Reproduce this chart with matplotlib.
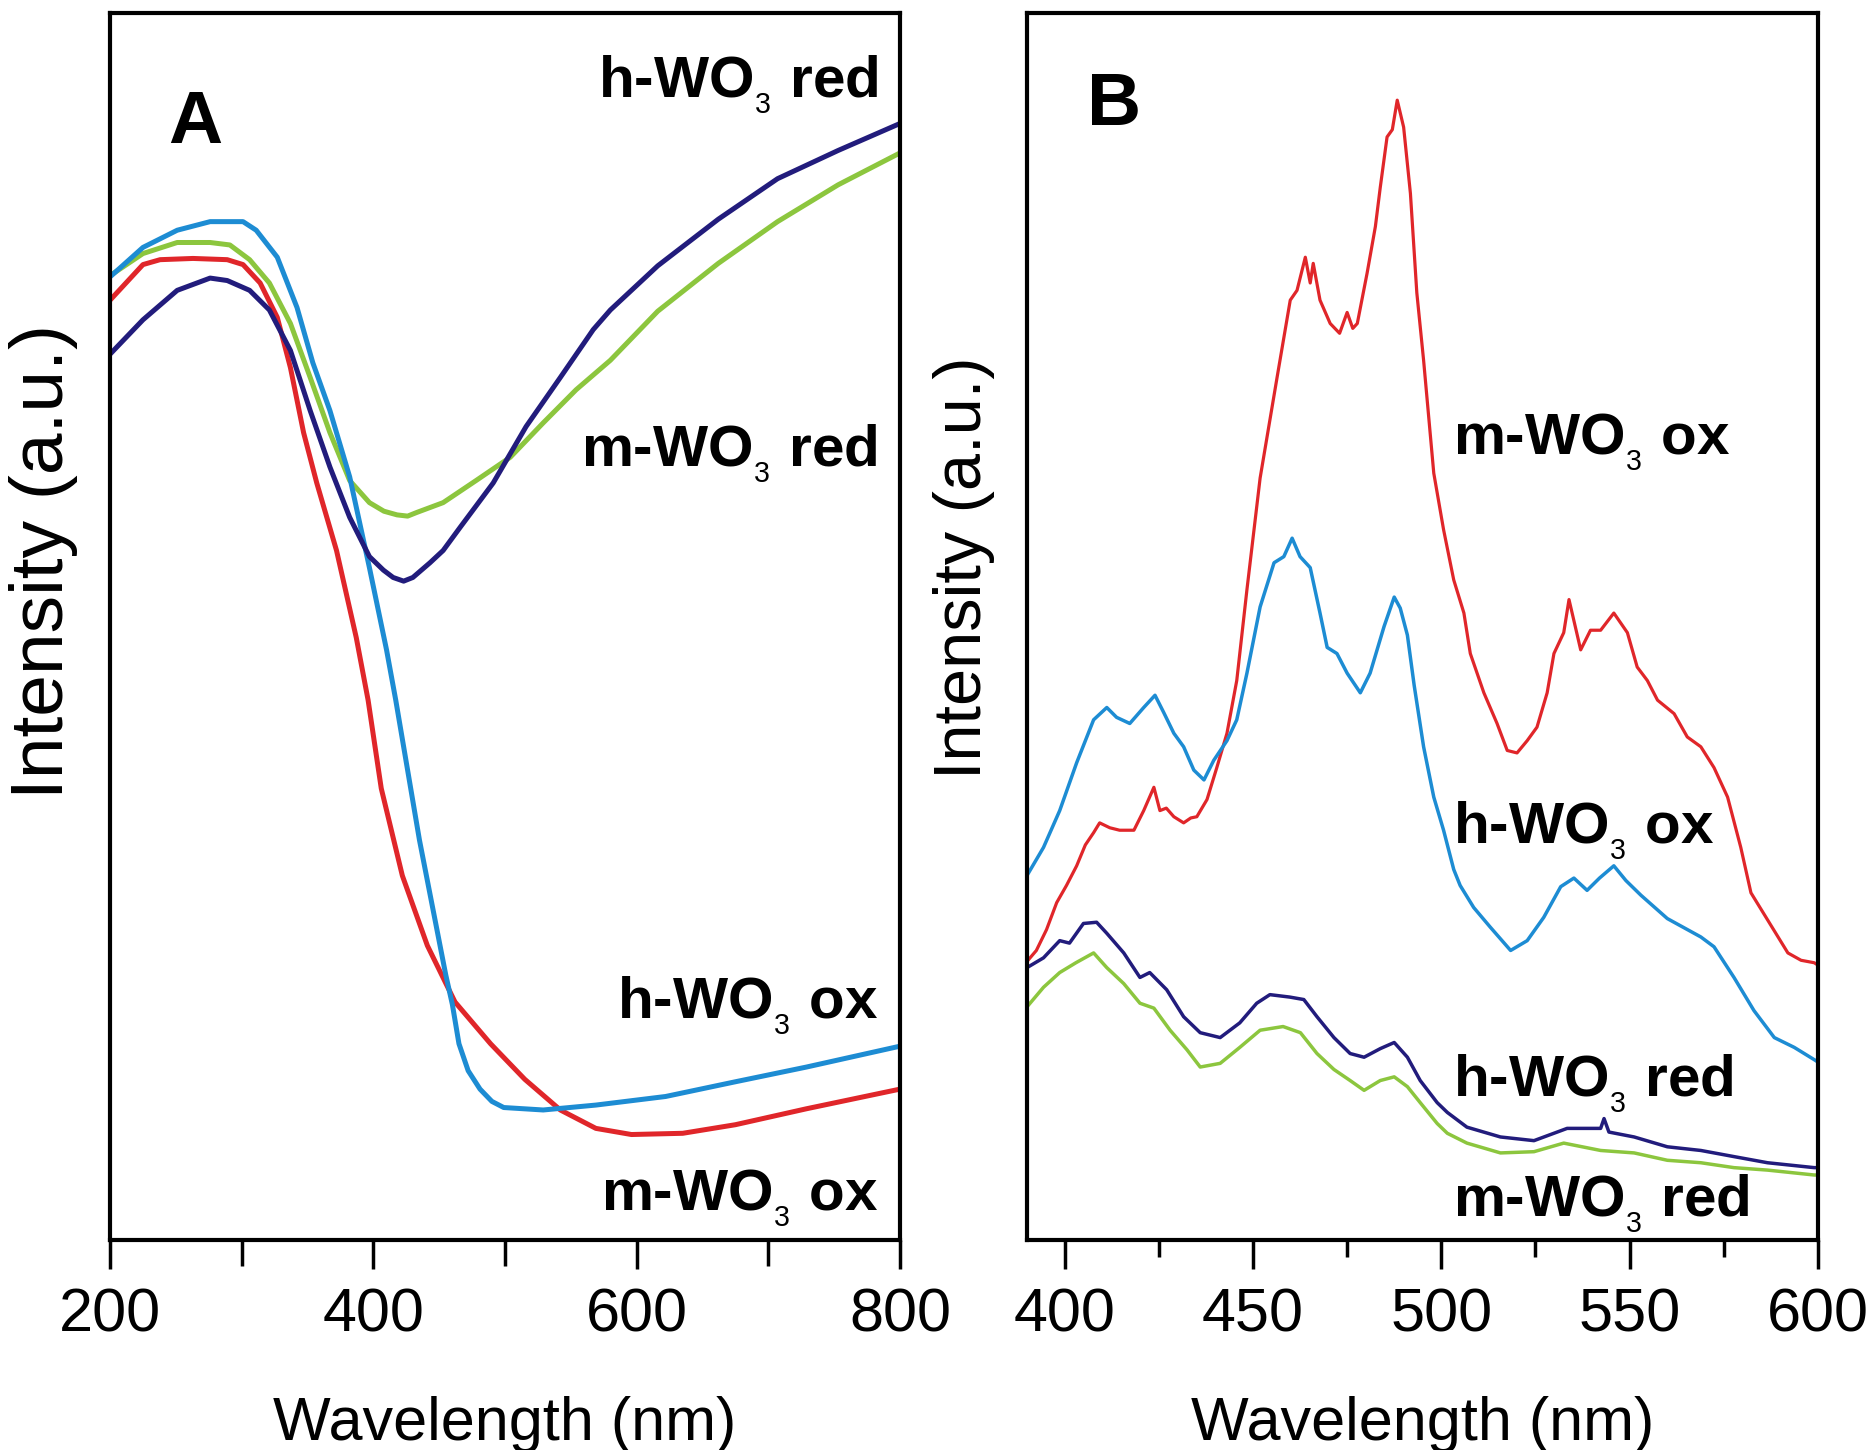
import matplotlib
matplotlib.use("Agg")
import matplotlib.pyplot as plt
from matplotlib.ticker import MultipleLocator

plt.rcParams["font.family"] = ["Liberation Sans", "DejaVu Sans"]
plt.rcParams["mathtext.fontset"] = "custom"
plt.rcParams["mathtext.rm"] = "Liberation Sans"
plt.rcParams["mathtext.bf"] = "Liberation Sans:bold"

RED = "#e0262a"
BLUE = "#1d8cd3"
NAVY = "#221c7c"
GREEN = "#8cc63e"

# ---- panel A: absorption (wavelength in nm, intensity in a.u.) ----
a_h_red_x = [200, 225, 251, 276, 289, 306, 321, 337, 352, 367, 382, 397, 407.6,
             415, 423, 430, 443, 453, 466, 491, 516, 542, 567, 580, 616, 662,
             707, 753, 800]
a_h_red_y = [72.2, 75.0, 77.4, 78.4, 78.2, 77.4, 75.8, 72.5, 67.6, 63.0, 58.9,
             55.7, 54.6, 54.0, 53.7, 54.0, 55.2, 56.2, 58.1, 61.7, 66.3, 70.3,
             74.2, 75.8, 79.4, 83.2, 86.5, 88.8, 91.0]

a_m_red_x = [200, 225, 251, 276, 291, 306, 321, 337, 352, 367, 382, 397, 408,
             418, 426, 433, 443, 453, 478, 504, 529, 554, 580, 616, 662, 707,
             753, 800]
a_m_red_y = [78.6, 80.4, 81.3, 81.3, 81.1, 79.9, 78.0, 74.7, 70.3, 65.8, 61.9,
             60.1, 59.4, 59.1, 59.0, 59.3, 59.7, 60.1, 61.9, 63.8, 66.6, 69.3,
             71.7, 75.7, 79.6, 83.0, 86.0, 88.6]

a_h_ox_x = [200, 225, 251, 276, 301, 311, 327, 342, 354, 367, 382, 397, 410,
            417, 435, 455, 460, 465, 472, 481, 490, 499, 529, 569, 622, 675,
            729, 800]
a_h_ox_y = [78.5, 80.9, 82.3, 83.0, 83.0, 82.3, 80.1, 76.0, 71.5, 67.6, 62.2,
            54.8, 48.1, 44.0, 32.6, 21.6, 19.2, 16.0, 13.8, 12.3, 11.3, 10.8,
            10.6, 11.0, 11.7, 12.9, 14.1, 15.8]

a_m_ox_x = [200, 225, 238, 263, 289, 301, 314, 327, 337, 347, 357, 372, 387,
            396, 406, 422, 441, 462, 489, 515, 542, 569, 596, 635, 675, 729, 800]
a_m_ox_y = [76.6, 79.5, 79.9, 80.0, 79.9, 79.5, 78.0, 75.2, 71.1, 65.8, 61.7,
            56.2, 49.1, 44.0, 36.8, 29.7, 24.0, 19.4, 16.0, 13.1, 10.6, 9.1,
            8.6, 8.7, 9.4, 10.7, 12.3]

# ---- panel B: emission ----
b_m_ox_x = [390, 392.5, 395.2, 397.9, 400.5, 403.2, 405.5, 407.7, 409.3, 412,
            414.6, 418.4, 421, 423.7, 425.3, 427, 429, 431.6, 433.5, 435.1,
            437.8, 440.4, 443.1, 445.7, 448.4, 451.9, 456.4, 459.9, 461.7,
            463.9, 465.2, 466, 467.8, 470.5, 473, 475, 476.5, 477.7, 480.3,
            482.5, 483.8, 485.6, 487, 488.3, 490, 491.8, 493.5, 495.3, 498,
            500.6, 503.3, 506, 507.7, 511.3, 514.8, 517.5, 520.1, 522.8, 525.4,
            528.1, 529.9, 532.5, 533.9, 537, 539.6, 542.3, 545.8, 549.4, 552,
            554.7, 557.4, 561.8, 565.3, 568.9, 572.4, 576, 579.5, 582.2, 586.6,
            592, 595.5, 599, 600]
b_m_ox_y = [22.7, 23.6, 25.3, 27.5, 28.9, 30.5, 32.2, 33.2, 34.0, 33.6, 33.4,
            33.4, 35.0, 36.9, 35.0, 35.2, 34.5, 34.0, 34.4, 34.5, 35.9, 38.5,
            41.3, 45.6, 53.0, 62.1, 70.3, 76.6, 77.4, 80.1, 78.0, 79.6, 76.6,
            74.7, 73.9, 75.6, 74.3, 74.7, 78.8, 82.6, 85.8, 89.9, 90.5, 92.9,
            90.7, 85.3, 77.2, 71.7, 62.5, 57.9, 53.8, 51.1, 47.8, 44.6, 42.1,
            39.9, 39.7, 40.7, 41.8, 44.6, 47.8, 49.5, 52.2, 48.1, 49.7, 49.7,
            51.1, 49.5, 46.7, 45.6, 44.0, 42.9, 41.0, 40.2, 38.5, 36.1, 32.0,
            28.3, 26.1, 23.4, 22.8, 22.6, 22.4]

b_h_ox_x = [390, 394.4, 398.7, 403.2, 407.7, 411.2, 413.8, 417.3, 421, 424,
            426.3, 429, 431.6, 434.3, 437, 439.6, 443.1, 445.7, 448.4, 451.9,
            455.6, 458.2, 460.4, 462.5, 465.2, 467.8, 469.7, 472.3, 475, 478.5,
            481.1, 484.8, 487.5, 489.1, 491, 492.8, 495.3, 498, 500.6, 503.3,
            505, 508.6, 513, 518.4, 522.8, 527.2, 531.7, 535.2, 538.7, 542,
            545.8, 549, 553, 560, 568.9, 572.4, 577.7, 583, 588.4, 593.7, 599,
            600]
b_h_ox_y = [29.7, 32.0, 35.0, 38.9, 42.4, 43.4, 42.6, 42.1, 43.4, 44.4, 43.0,
            41.3, 40.2, 38.3, 37.5, 39.1, 40.7, 42.4, 46.2, 51.6, 55.2, 55.7,
            57.2, 55.7, 54.8, 51.1, 48.3, 47.8, 46.2, 44.6, 46.2, 50.0, 52.4,
            51.5, 49.3, 45.2, 40.2, 36.1, 33.4, 30.2, 28.9, 27.1, 25.5, 23.6,
            24.4, 26.3, 28.8, 29.5, 28.5, 29.5, 30.5, 29.3, 28.1, 26.2, 24.7,
            23.9, 21.4, 18.7, 16.5, 15.7, 14.7, 14.5]

b_h_red_x = [390, 394.4, 398.7, 401.3, 405, 408.5, 411.2, 415.7, 420, 422.6,
             427.1, 431.6, 436, 441.3, 446.5, 451, 454.5, 459.8, 463.5, 467,
             471.5, 475.8, 479.5, 483.8, 487.5, 491, 494.4, 498.9, 501.6,
             506.8, 515.7, 524.6, 533.4, 542.3, 543.2, 544.5, 551.2, 560,
             568.9, 577.7, 586.6, 599, 600]
b_h_red_y = [22.2, 23.0, 24.4, 24.2, 25.8, 25.9, 25.0, 23.4, 21.4, 21.8, 20.4,
             18.2, 16.9, 16.5, 17.7, 19.3, 20.0, 19.8, 19.6, 18.2, 16.5, 15.2,
             14.9, 15.6, 16.1, 14.9, 13.0, 11.2, 10.4, 9.2, 8.4, 8.1, 9.1, 9.1,
             9.9, 8.8, 8.4, 7.6, 7.3, 6.8, 6.3, 5.9, 5.9]

b_m_red_x = [390, 394.4, 398.7, 403, 407.7, 411.2, 415.7, 420, 423.7, 428,
             432.5, 436, 441.3, 446.5, 451.9, 458, 462.6, 467, 471.5, 475.8,
             479.5, 483.8, 487.5, 491, 494.4, 498.9, 501.6, 506.8, 515.7,
             524.6, 532.5, 542.3, 551.2, 560, 568.9, 577.7, 586.6, 599, 600]
b_m_red_y = [19.0, 20.6, 21.8, 22.6, 23.4, 22.2, 20.9, 19.3, 18.9, 17.1, 15.5,
             14.1, 14.4, 15.7, 17.1, 17.4, 16.9, 15.2, 13.9, 13.0, 12.2, 13.0,
             13.3, 12.5, 11.2, 9.5, 8.7, 7.9, 7.1, 7.2, 7.9, 7.3, 7.1, 6.5, 6.3,
             5.9, 5.7, 5.3, 5.3]


def style_axis(ax, major, minor, minor_len, ylabel_size, ylabel_y):
    for side in ["left", "right", "top", "bottom"]:
        ax.spines[side].set_linewidth(3)
    ax.set_yticks([])
    ax.xaxis.set_major_locator(MultipleLocator(major))
    ax.xaxis.set_minor_locator(MultipleLocator(minor))
    ax.tick_params(axis="x", which="major", direction="out", length=21,
                   width=2.5, labelsize=44, pad=13)
    ax.tick_params(axis="x", which="minor", direction="out", length=minor_len,
                   width=2.5)
    ax.set_ylim(0, 100)
    ax.set_xlabel("Wavelength (nm)", fontsize=44, labelpad=37)
    ax.set_ylabel("Intensity (a.u.)", fontsize=ylabel_size)
    ax.yaxis.set_label_coords(-0.04, ylabel_y)


fig = plt.figure(figsize=(18.75, 14.5), dpi=100)
ax1 = fig.add_axes([0.0587, 0.1448, 0.4213, 0.8462])
ax2 = fig.add_axes([0.5477, 0.1448, 0.4219, 0.8462])

# panel A
ax1.plot(a_m_red_x, a_m_red_y, color=GREEN, lw=3.6, solid_joinstyle="round")
ax1.plot(a_m_ox_x, a_m_ox_y, color=RED, lw=3.6, solid_joinstyle="round")
ax1.plot(a_h_ox_x, a_h_ox_y, color=BLUE, lw=3.6, solid_joinstyle="round")
ax1.plot(a_h_red_x, a_h_red_y, color=NAVY, lw=3.6, solid_joinstyle="round")
ax1.set_xlim(200, 800)
style_axis(ax1, 200, 100, 19, 54, 0.553)

lbl = dict(fontsize=42, fontweight="bold", va="baseline")
ax1.text(0.972, 0.932, r"h-WO$_{{}_3}$ red", ha="right", transform=ax1.transAxes, **lbl)
ax1.text(0.972, 0.631, r"m-WO$_{{}_3}$ red", ha="right", transform=ax1.transAxes, **lbl)
ax1.text(0.972, 0.181, r"h-WO$_{{}_3}$ ox", ha="right", transform=ax1.transAxes, **lbl)
ax1.text(0.972, 0.025, r"m-WO$_{{}_3}$ ox", ha="right", transform=ax1.transAxes, **lbl)
ax1.text(0.108, 0.910, "A", fontsize=54, fontweight="bold", ha="center",
         va="center", transform=ax1.transAxes)

# panel B
ax2.plot(b_m_ox_x, b_m_ox_y, color=RED, lw=2.3)
ax2.plot(b_h_ox_x, b_h_ox_y, color=BLUE, lw=2.5)
ax2.plot(b_h_red_x, b_h_red_y, color=NAVY, lw=2.5)
ax2.plot(b_m_red_x, b_m_red_y, color=GREEN, lw=2.5)
ax2.set_xlim(390, 600)
style_axis(ax2, 50, 25, 12, 48, 0.548)

ax2.text(0.539, 0.641, r"m-WO$_{{}_3}$ ox", ha="left", transform=ax2.transAxes, **lbl)
ax2.text(0.539, 0.324, r"h-WO$_{{}_3}$ ox", ha="left", transform=ax2.transAxes, **lbl)
ax2.text(0.539, 0.118, r"h-WO$_{{}_3}$ red", ha="left", transform=ax2.transAxes, **lbl)
ax2.text(0.539, 0.020, r"m-WO$_{{}_3}$ red", ha="left", transform=ax2.transAxes, **lbl)
ax2.text(0.110, 0.925, "B", fontsize=54, fontweight="bold", ha="center",
         va="center", transform=ax2.transAxes)

fig.savefig("out.png", dpi=100)
